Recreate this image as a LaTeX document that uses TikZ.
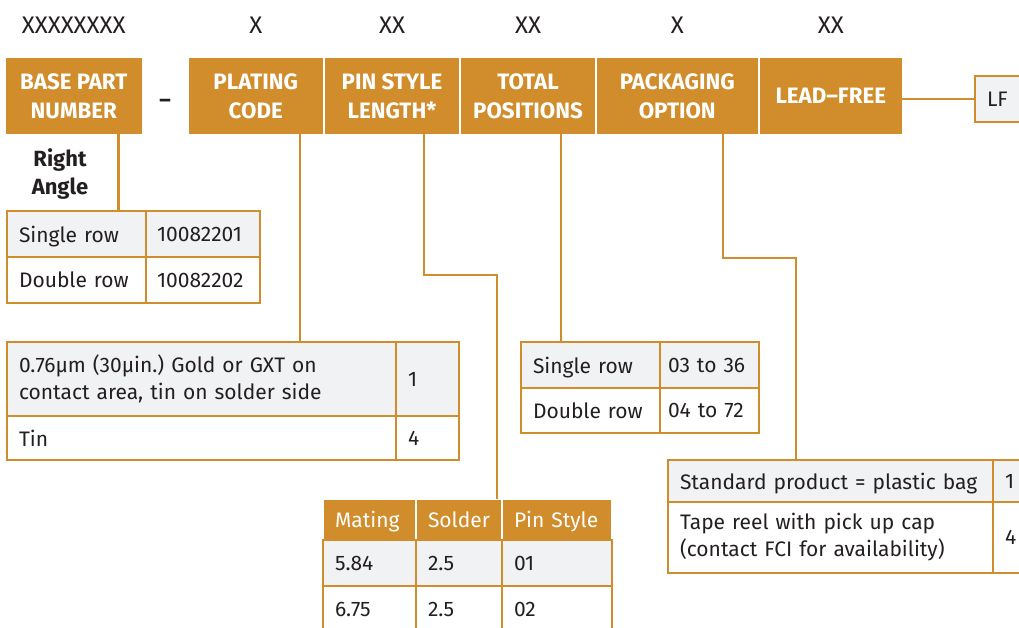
\documentclass[tikz,border=0pt]{standalone}
\usepackage{fontspec}
\setmainfont{Fira Sans}
\usetikzlibrary{positioning,calc}
\definecolor{fci}{HTML}{D18D2B}
\definecolor{shade}{HTML}{F1F2F4}
\definecolor{ink}{HTML}{231F20}
\frenchspacing
\tikzset{
    hdr/.style = {fill=fci, text=white, inner sep=0pt, outer sep=0pt,
                  minimum height=76pt, align=center,
                  font=\fontsize{22.3}{29}\selectfont\bfseries},
    cell/.style = {draw=fci, line width=2.5pt, anchor=north west,
                   inner xsep=12pt, inner ysep=0pt, outer sep=0pt, text depth=0pt,
                   align=left, text=ink, font=\fontsize{21}{27}\selectfont},
    grey/.style = {cell, fill=shade},
    colhead/.style = {cell, fill=fci, draw=white, text=white},
    code/.style = {text=ink, font=\fontsize{24}{28}\selectfont},
    link/.style = {draw=fci, line width=2.2pt},
}

\begin{document}
\begin{tikzpicture}[x=1pt, y=-1pt]
    \clip (0,0) rectangle (1019,628);

    % part number fields
    \node [hdr, minimum width=135.5pt, anchor=north west] (base) at (6,58) {BASE PART\\NUMBER};
    \node [hdr, minimum width=133.5pt, right=47.5pt of base] (plating) {PLATING\\CODE};
    \node [hdr, minimum width=134pt, right=2.5pt of plating] (pinlen) {PIN STYLE\\LENGTH*};
    \node [hdr, minimum width=134pt, right=2pt of pinlen] (total) {TOTAL\\POSITIONS};
    \node [hdr, minimum width=160.5pt, right=2pt of total] (packing) {PACKAGING\\OPTION};
    \node [hdr, minimum width=142.5pt, right=2pt of packing] (leadfree) {LEAD–FREE};
    \node [code, font=\fontsize{22}{24}\selectfont\bfseries] (dash) at (165,103) {–};

    \node [code, above=21pt of base] (xbase) {XXXXXXXX};
    \node [code, above=21pt of plating] (xplating) {X};
    \node [code, above=21pt of pinlen] (xpinlen) {XX};
    \node [code, above=21pt of total] (xtotal) {XX};
    \node [code, above=21pt of packing] (xpacking) {X};
    \node [code, above=21pt of leadfree] (xleadfree) {XX};

    \node [grey, text width=40pt, minimum height=46pt, anchor=west] (lf) at (975,99) {LF};

    % base part number
    \node [code, align=center, font=\fontsize{22}{28}\selectfont\bfseries] (angle) at (60,174) {Right\\Angle};
    \node [grey, text width=115pt, minimum height=46pt] (bs1) at (7,211) {Single row};
    \node [grey, text width=92pt, minimum height=46pt, inner xsep=11pt] (bs2) at (bs1.north east) {10082201};
    \node [cell, text width=115pt, minimum height=46pt] (bd1) at (bs1.south west) {Double row};
    \node [cell, text width=92pt, minimum height=46pt, inner xsep=11pt] (bd2) at (bd1.north east) {10082202};

    % plating code
    \node [grey, text width=365pt, minimum height=74pt, text depth={}] (pl1) at (7,342) {0.76µm (30µin.) Gold or GXT on\\contact area, tin on solder side};
    \node [grey, text width=39pt, minimum height=74pt] (pl2) at (pl1.north east) {1};
    \node [cell, text width=365pt, minimum height=44pt] (pl3) at (pl1.south west) {Tin};
    \node [cell, text width=39pt, minimum height=44pt] (pl4) at (pl3.north east) {4};

    % total positions
    \node [grey, text width=115pt, minimum height=46pt] (ts1) at (521,342) {Single row};
    \node [grey, text width=83pt, minimum height=46pt, inner xsep=8pt] (ts2) at (ts1.north east) {03 to 36};
    \node [cell, text width=115pt, minimum height=45pt] (td1) at (ts1.south west) {Double row};
    \node [cell, text width=83pt, minimum height=45pt, inner xsep=8pt] (td2) at (td1.north east) {04 to 72};

    % packaging option
    \node [grey, text width=301pt, minimum height=42pt] (pk1) at (668,460) {Standard product = plastic bag};
    \node [grey, text width=36pt, minimum height=42pt] (pk2) at (pk1.north east) {1};
    \node [cell, text width=301pt, minimum height=71pt, text depth={}] (pk3) at (pk1.south west) {Tape reel with pick up cap\\(contact FCI for availability)};
    \node [cell, text width=36pt, minimum height=71pt] (pk4) at (pk3.north east) {4};

    % pin style length
    \node [colhead, text width=69pt, minimum height=41pt] (ph1) at (323,499) {Mating};
    \node [colhead, text width=62pt, minimum height=41pt] (ph2) at (ph1.north east) {Solder};
    \node [colhead, text width=86pt, minimum height=41pt] (ph3) at (ph2.north east) {Pin Style};
    \node [grey, text width=69pt, minimum height=46pt] (pa1) at (ph1.south west) {5.84};
    \node [grey, text width=62pt, minimum height=46pt] (pa2) at (pa1.north east) {2.5};
    \node [grey, text width=86pt, minimum height=46pt] (pa3) at (pa2.north east) {01};
    \node [cell, text width=69pt, minimum height=46pt] (pb1) at (pa1.south west) {6.75};
    \node [cell, text width=62pt, minimum height=46pt] (pb2) at (pb1.north east) {2.5};
    \node [cell, text width=86pt, minimum height=46pt] (pb3) at (pb2.north east) {02};

    % connectors
    \coordinate (b1) at ($(base.south west)!.83!(base.south east)$);
    \coordinate (c1) at ($(plating.south west)!.83!(plating.south east)$);
    \coordinate (p1) at ($(pinlen.south west)!.74!(pinlen.south east)$);
    \coordinate (t1) at ($(total.south west)!.746!(total.south east)$);
    \coordinate (k1) at ($(packing.south west)!.785!(packing.south east)$);
    \coordinate (pbend) at (497,275);
    \coordinate (kbend) at (796,258);

    \draw [link] (b1) -- (b1 |- bs1.north);
    \draw [link] (c1) -- (c1 |- pl1.north);
    \draw [link] (p1) |- (pbend) -- (pbend |- ph2.north);
    \draw [link] (t1) -- (t1 |- ts1.north);
    \draw [link] (k1) |- (kbend) -- (kbend |- pk1.north);
    \draw [link] (lf.west -| leadfree.east) -- (lf.west);
\end{tikzpicture}
\end{document}
